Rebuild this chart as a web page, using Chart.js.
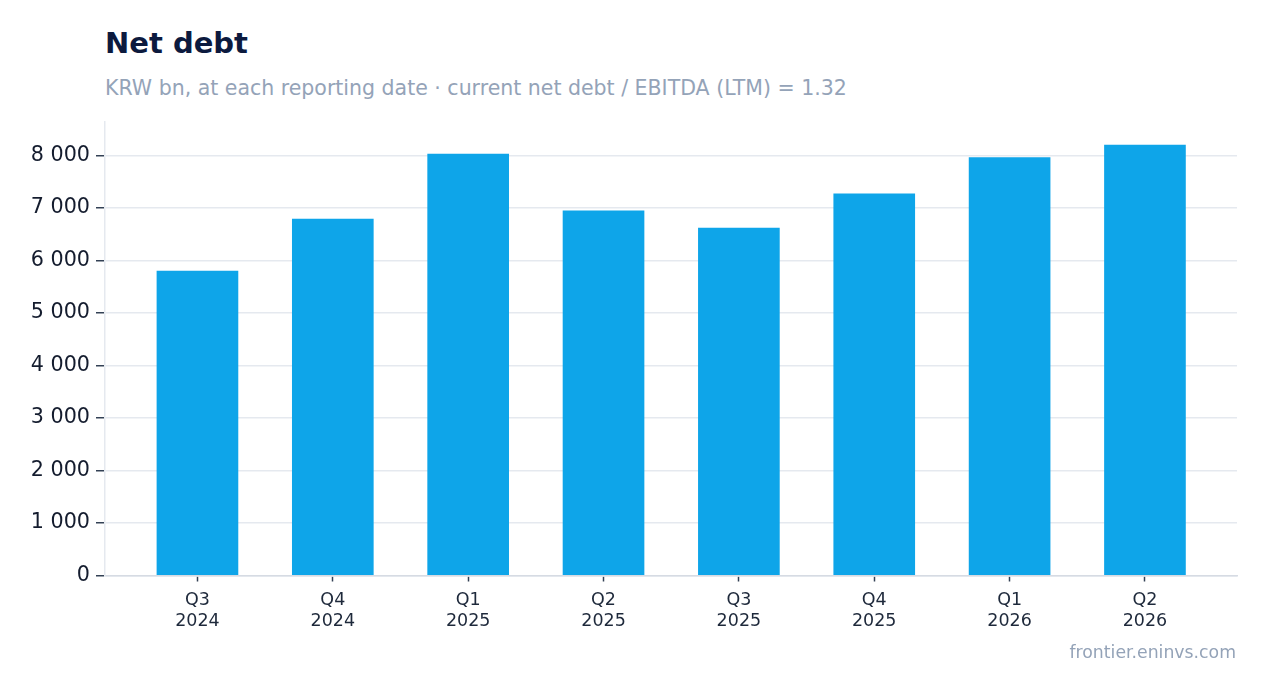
<!DOCTYPE html>
<html>
<head>
<meta charset="utf-8">
<script src="https://cdn.jsdelivr.net/npm/chart.js@4"></script>
<style>
    html, body { margin: 0; padding: 0; background: #fff; }
    body { width: 1267px; height: 693px; position: relative; overflow: hidden; font-family: "DejaVu Sans", sans-serif; }
    .dash-title { position: absolute; left: 105px; top: 25px; font-size: 29px; font-weight: bold; color: #0c1a3e; line-height: 36px; }
    .dash-sub { position: absolute; left: 105px; top: 75px; font-size: 20.5px; color: #94a3b8; line-height: 26px; }
    .dash-src { position: absolute; right: 31px; top: 641px; font-size: 17.3px; color: #94a3b8; line-height: 22px; }
    #wrap { position: absolute; left: 0; top: 0; width: 1267px; height: 693px; }
</style>
</head>
<body>
<div class="dash-title">Net debt</div>
<div class="dash-sub">KRW bn, at each reporting date · current net debt / EBITDA (LTM) = 1.32</div>
<div id="wrap"><canvas id="chart" width="1267" height="693"></canvas></div>
<div class="dash-src">frontier.eninvs.com</div>

<script>
let label_quarter = ['Q3', 'Q4', 'Q1', 'Q2', 'Q3', 'Q4', 'Q1', 'Q2'];
let label_year = ['2024', '2024', '2025', '2025', '2025', '2025', '2026', '2026'];
let net_debt = [5800, 6790, 8030, 6950, 6620, 7270, 7960, 8200];
let y_ticks = [0, 1000, 2000, 3000, 4000, 5000, 6000, 7000, 8000];

// x pakai skala linear supaya ada jarak di kiri/kanan seperti aslinya
let points = net_debt.map((v, i) => ({ x: i, y: v }));

function formatRibuan(v) {
    return String(v).replace(/\B(?=(\d{3})+(?!\d))/g, ' ');
}

let chartNetDebt = new Chart(document.getElementById('chart'), {
    type: 'bar',
    data: {
        datasets: [{
            label: 'Net debt',
            data: points,
            backgroundColor: '#0ea5e9',
            borderWidth: 0,
            barThickness: 81
        }]
    },
    options: {
        responsive: false,
        animation: false,
        devicePixelRatio: 1,
        layout: { padding: { left: 0, right: 30, top: 122, bottom: 0 } },
        plugins: {
            legend: { display: false },
            title: { display: false },
            tooltip: { enabled: false }
        },
        scales: {
            x: {
                type: 'linear',
                min: -0.683,
                max: 7.68,
                offset: false,
                grid: { display: true, offset: false, drawOnChartArea: false, tickLength: 6, tickColor: '#334155', tickWidth: 1.5 },
                border: { color: '#d6dbe3', width: 1.5 },
                ticks: {
                    color: '#1e293b',
                    font: { family: 'DejaVu Sans', size: 17.5 },
                    padding: 8,
                    maxRotation: 0,
                    autoSkip: false,
                    callback: function (v) { return [label_quarter[v], label_year[v]]; }
                },
                afterBuildTicks: function (scale) {
                    scale.ticks = label_quarter.map((q, i) => ({ value: i }));
                },
                afterFit: function (scale) { scale.height = 117.5; }
            },
            y: {
                min: 0,
                max: 8640,
                grid: { color: '#e5e9ef', lineWidth: 1.5, tickLength: 9, tickColor: '#334155', tickWidth: 1.5 },
                border: { color: '#e5e9ef', width: 1.5 },
                ticks: {
                    color: '#141c2e',
                    font: { family: 'DejaVu Sans', size: 20.7 },
                    padding: 6,
                    callback: function (v) { return formatRibuan(v); }
                },
                afterBuildTicks: function (scale) {
                    scale.ticks = y_ticks.map(v => ({ value: v }));
                },
                afterFit: function (scale) { scale.width = 105; }
            }
        }
    }
});
</script>
</body>
</html>
